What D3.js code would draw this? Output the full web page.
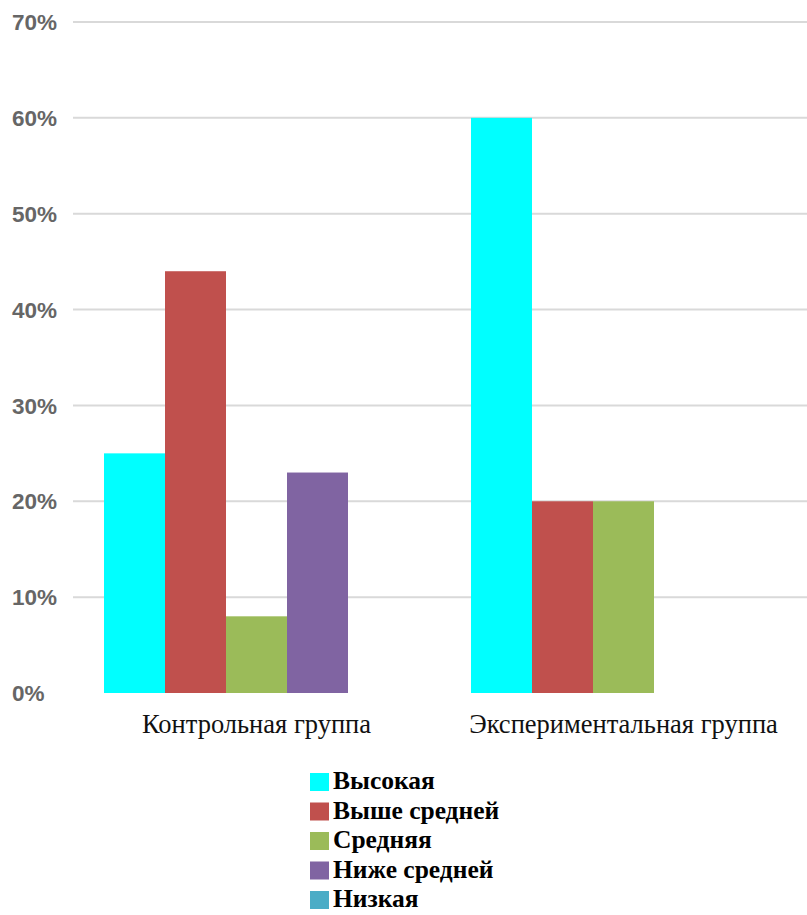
<!DOCTYPE html>
<html><head><meta charset="utf-8">
<script src="https://cdn.jsdelivr.net/npm/d3@7"></script>
<style>body{margin:0;background:#fff}svg{display:block}</style>
</head><body><svg id="c" width="807" height="915"></svg>
<script>
const categories = ["Контрольная группа", "Экспериментальная группа"];
const seriesNames = ["Высокая", "Выше средней", "Средняя", "Ниже средней", "Низкая"];
const seriesColors = ["#00FFFF", "#C0504D", "#9BBB59", "#8064A2", "#4BACC6"];
const valuesHigh = [25, 60];
const valuesAboveAvg = [44, 20];
const valuesAvg = [8, 20];
const valuesBelowAvg = [23, 0];
const valuesLow = [0, 0];
const yTicks = [0, 10, 20, 30, 40, 50, 60, 70];

const SERIF = "font-family:'Liberation Serif','Times New Roman','DejaVu Serif',serif";
const SANS = "font-family:'Liberation Sans',Arial,sans-serif";
const series = [valuesHigh, valuesAboveAvg, valuesAvg, valuesBelowAvg, valuesLow];
const svg = d3.select("#c");
const x0 = d3.scaleBand().domain(categories).range([73, 807]).paddingInner(0).paddingOuter(0);
const y = d3.scaleLinear().domain([0, 70]).range([693, 22]);
const x1 = d3.scaleBand().domain(d3.range(seriesNames.length)).range([31, x0.bandwidth() - 31]).padding(0);

// grid
svg.append("g").selectAll("line").data(yTicks.filter(d => d > 0)).join("line")
  .attr("x1", 73).attr("x2", 807).attr("y1", d => y(d)).attr("y2", d => y(d))
  .attr("stroke", "#d9d9d9").attr("stroke-width", 2);

// y labels
svg.append("g").selectAll("text").data(yTicks).join("text")
  .attr("style", SANS)
  .attr("x", 12).attr("y", d => y(d)).attr("dy", "0.36em")
  .attr("font-weight", "bold")
  .attr("font-size", 22.5).attr("fill", "#666").text(d => d + "%");

// bars
const g = svg.append("g");
categories.forEach((cat, ci) => {
  series.forEach((vals, si) => {
    if (vals[ci] <= 0) return;
    g.append("rect")
      .attr("x", x0(cat) + x1(si)).attr("width", x1.bandwidth())
      .attr("y", y(vals[ci])).attr("height", y(0) - y(vals[ci]))
      .attr("fill", seriesColors[si]);
  });
});

// x labels
svg.append("g").selectAll("text").data(categories).join("text")
  .attr("style", SERIF)
  .attr("x", d => x0(d) + x0.bandwidth() / 2).attr("y", 733)
  .attr("text-anchor", "middle")
  .attr("font-size", 26.5).attr("fill", "#111").text(d => d);

// legend
const lg = svg.append("g");
seriesNames.forEach((name, i) => {
  const base = 789 + i * 29.5;
  lg.append("rect").attr("x", 310).attr("y", base - 16).attr("width", 19).attr("height", 18).attr("fill", seriesColors[i]);
  lg.append("text").attr("style", SERIF).attr("x", 333).attr("y", base)
    .attr("font-weight", "bold")
    .attr("font-size", 25.5).attr("fill", "#000").text(name);
});
</script></body></html>
